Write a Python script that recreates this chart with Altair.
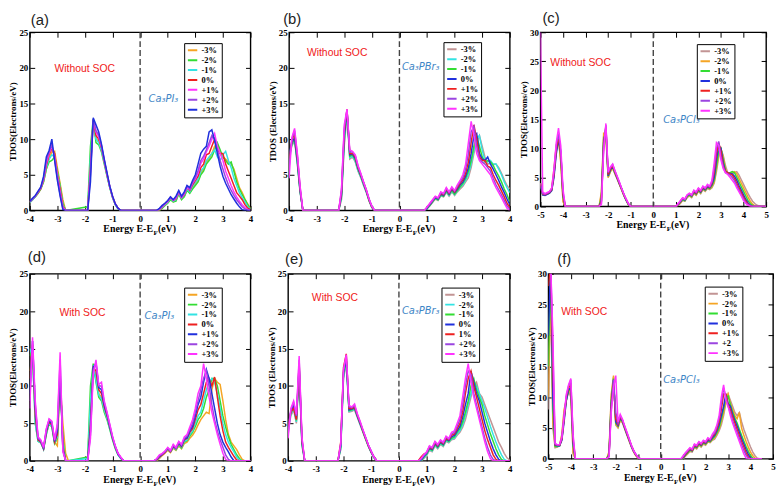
import altair as alt
import pandas as pd

# ---------------- colours ----------------
ORANGE = "#f5a524"
GREEN = "#33dd33"
CYAN = "#33e3e3"
RED = "#ee2020"
MAGENTA = "#ff33ff"
PURPLE = "#9b45e0"
BLUE = "#2030dd"
BROWN = "#c29494"

STRAIN = ["-3%", "-2%", "-1%", "0%", "+1%", "+2%", "+3%"]
STRAIN_E = ["-3%", "-2%", "-1%", "0%", "1%", "+2%", "+3%"]
STRAIN_F = ["-3%", "-2%", "-1%", "0%", "+1%", "+2", "+3%"]

# ================= (a) Ca3PI3 without SOC =================
A_E1 = [-4.0, -3.9, -3.8, -3.7, -3.6, -3.5, -3.4, -3.3, -3.2, -3.1, -3.0, -2.9, -2.8, -2.7]
A_E2 = [-1.9, -1.8, -1.7, -1.6, -1.5, -1.4, -1.3, -1.2, -1.1, -1.0, -0.9, -0.8, -0.7]
A_E3 = [0.6, 0.7, 0.8, 0.9, 1.0, 1.1, 1.2, 1.3, 1.4, 1.5, 1.6, 1.7, 1.8, 1.9, 2.0, 2.1, 2.2, 2.3,
        2.4, 2.5, 2.6, 2.7, 2.8, 2.9, 3.0, 3.1, 3.2, 3.3, 3.4, 3.5, 3.6, 3.7, 3.8, 3.9, 4.0]
A_V1 = [
    [1.1, 1.5, 1.9, 2.4, 3.0, 4.0, 5.8, 7.2, 8.2, 8.3, 6.0, 3.8, 1.5, 0],
    [1.1, 1.5, 1.9, 2.4, 3.0, 4.0, 5.8, 6.8, 7.0, 7.5, 5.5, 3.5, 1.0, 0],
    [1.1, 1.5, 1.9, 2.5, 3.1, 4.2, 6.0, 7.2, 7.8, 7.5, 5.2, 3.2, 0.8, 0],
    [1.2, 1.6, 2.0, 2.5, 3.1, 4.3, 6.3, 7.8, 8.7, 8.0, 5.0, 3.0, 0.6, 0],
    [1.2, 1.6, 2.0, 2.6, 3.2, 4.4, 6.6, 8.0, 9.0, 7.6, 4.8, 2.6, 0.4, 0],
    [1.2, 1.6, 2.0, 2.6, 3.2, 4.5, 7.0, 8.2, 9.3, 7.2, 4.5, 2.2, 0.2, 0],
    [1.3, 1.7, 2.1, 2.7, 3.3, 4.8, 7.5, 8.4, 10.0, 7.0, 4.2, 2.0, 0.1, 0],
]
A_V2 = [
    [0, 7, 12.5, 10, 9.8, 8.5, 6.8, 5.0, 3.3, 1.9, 0.9, 0.3, 0],
    [0.5, 9, 12.8, 9.5, 9.2, 8.2, 6.5, 4.8, 3.2, 1.8, 0.8, 0.2, 0],
    [0, 7.5, 12.5, 10, 9.5, 8.4, 6.7, 4.9, 3.2, 1.8, 0.8, 0.2, 0],
    [0, 6, 12.6, 10.5, 10.0, 8.8, 6.9, 5.0, 3.3, 1.9, 0.9, 0.3, 0],
    [0, 5.5, 12.6, 11, 10.3, 9.0, 7.0, 5.1, 3.3, 1.9, 0.9, 0.3, 0],
    [0, 5, 12.8, 11.2, 10.6, 9.1, 7.1, 5.2, 3.4, 2.0, 0.9, 0.3, 0],
    [0, 4, 13.0, 12.0, 11.0, 9.3, 7.2, 5.3, 3.4, 2.0, 0.9, 0.3, 0],
]
A_CB = [
    [0, 0, 0.3, 0.7, 1.1, 1.6, 1.2, 1.4, 2.4, 1.6, 2.0, 2.9, 2.5, 3.2, 3.7, 4.2, 5.2, 5.8, 6.8, 7.2,
     8.0, 9.0, 9.3, 8.0, 7.5, 7.2, 6.8, 6.5, 5.8, 4.5, 3.2, 2.5, 1.6, 0.9, 0.3],
    [0, 0, 0.3, 0.7, 1.0, 1.5, 1.2, 1.3, 2.3, 1.5, 1.9, 2.8, 2.4, 3.0, 3.5, 4.0, 5.0, 5.5, 6.5, 7.0,
     7.5, 8.5, 9.5, 8.5, 7.5, 7.0, 6.5, 6.8, 5.5, 4.0, 3.0, 2.2, 1.5, 0.8, 0.2],
    [0, 0.1, 0.4, 0.8, 1.1, 1.7, 1.3, 1.5, 2.5, 1.7, 2.1, 3.0, 2.6, 3.4, 3.9, 4.4, 5.5, 6.0, 7.0, 7.5,
     8.0, 8.5, 7.5, 7.0, 7.8, 8.3, 7.0, 6.0, 4.5, 3.5, 2.5, 1.8, 1.2, 0.5, 0.2],
    [0, 0.1, 0.5, 0.9, 1.2, 1.8, 1.4, 1.6, 2.6, 1.8, 2.2, 3.2, 2.8, 3.6, 4.2, 4.8, 6.0, 6.5, 7.8, 8.0,
     9.0, 10.0, 8.5, 8.0, 8.0, 6.5, 5.5, 4.5, 3.5, 2.5, 2.0, 1.5, 0.8, 0.3, 0.1],
    [0, 0.1, 0.5, 0.9, 1.2, 1.8, 1.4, 1.7, 2.6, 1.8, 2.3, 3.3, 2.9, 3.8, 4.4, 5.2, 6.6, 7.2, 8.2, 9.0,
     10.0, 10.8, 9.0, 8.0, 7.0, 5.5, 4.5, 3.5, 2.6, 1.9, 1.3, 0.8, 0.4, 0.1, 0],
    [0, 0.2, 0.6, 1.0, 1.3, 1.9, 1.5, 1.8, 2.7, 1.9, 2.4, 3.4, 3.0, 3.9, 4.6, 5.6, 7.0, 7.6, 8.5, 9.5,
     10.5, 10.0, 8.5, 7.0, 5.8, 4.6, 3.6, 2.8, 2.1, 1.5, 1.0, 0.5, 0.2, 0, 0],
    [0, 0.3, 0.7, 1.0, 1.4, 1.9, 1.5, 2.0, 2.8, 2.0, 2.6, 3.5, 3.2, 4.2, 5.0, 6.5, 8.0, 8.6, 9.0, 11.0,
     11.3, 9.8, 8.0, 6.2, 4.8, 3.8, 3.0, 2.2, 1.6, 1.0, 0.5, 0.1, 0, 0, 0],
]

# ================= (b) Ca3PBr3 without SOC =================
B_E1 = [-4.0, -3.9, -3.8, -3.7, -3.6, -3.5]
B_E2 = [-2.2, -2.1, -2.0, -1.9, -1.8, -1.7, -1.6, -1.5, -1.4, -1.3, -1.2, -1.1, -1.0, -0.9]
B_E3 = [0.8, 0.9, 1.0, 1.1, 1.2, 1.3, 1.4, 1.5, 1.6, 1.7, 1.8, 1.9, 2.0, 2.1, 2.2, 2.3, 2.4, 2.5,
        2.6, 2.7, 2.8, 2.9, 3.0, 3.1, 3.2, 3.3, 3.4, 3.5, 3.6, 3.7, 3.8, 3.9, 4.0]
B_V1 = [
    [7.5, 9.0, 9.8, 6.5, 2.5, 0],
    [7.5, 9.2, 10.0, 6.6, 2.6, 0],
    [7.6, 9.3, 10.0, 6.8, 2.7, 0],
    [7.8, 9.5, 10.2, 7.0, 2.8, 0],
    [7.0, 9.8, 10.8, 7.5, 3.0, 0],
    [6.0, 10.0, 11.2, 7.8, 3.2, 0],
    [4.5, 10.2, 11.5, 8.0, 3.4, 0],
]
B_V2 = [
    [0, 1.5, 9.0, 13.5, 7.2, 7.5, 6.8, 5.5, 4.6, 3.5, 2.5, 1.3, 0.4, 0],
    [0, 1.8, 9.5, 13.8, 7.4, 7.6, 6.9, 5.6, 4.7, 3.6, 2.6, 1.4, 0.4, 0],
    [0, 2.0, 10.0, 14.0, 7.6, 7.8, 7.1, 5.8, 4.8, 3.7, 2.7, 1.4, 0.5, 0],
    [0, 2.2, 10.5, 14.0, 7.8, 7.9, 7.3, 5.9, 4.9, 3.8, 2.7, 1.5, 0.5, 0],
    [0, 2.5, 11.0, 14.2, 8.0, 8.0, 7.5, 6.0, 5.0, 3.9, 2.8, 1.5, 0.5, 0],
    [0, 2.8, 11.5, 14.1, 8.2, 8.2, 7.7, 6.2, 5.1, 4.0, 2.9, 1.6, 0.6, 0],
    [0, 3.0, 12.0, 14.2, 8.5, 8.3, 7.8, 6.3, 5.2, 4.0, 2.9, 1.6, 0.6, 0],
]
B_CB = [
    [0, 0, 0.2, 0.6, 1.1, 1.6, 1.4, 2.0, 1.9, 2.5, 2.0, 2.6, 2.1, 2.6, 3.0, 3.4, 4.0, 4.6, 6.0, 8.0,
     9.5, 10.5, 9.0, 7.5, 6.5, 6.6, 6.4, 6.5, 6.0, 5.2, 4.3, 3.5, 3.0],
    [0, 0, 0.2, 0.7, 1.2, 1.7, 1.5, 2.1, 2.0, 2.6, 2.1, 2.7, 2.2, 2.7, 3.2, 3.6, 4.2, 5.0, 6.5, 8.5,
     10.0, 10.5, 8.5, 7.0, 6.8, 7.0, 6.5, 6.5, 5.8, 5.0, 4.0, 3.2, 2.5],
    [0, 0, 0.3, 0.7, 1.2, 1.7, 1.5, 2.2, 2.0, 2.7, 2.2, 2.8, 2.3, 2.8, 3.3, 3.8, 4.5, 5.5, 7.0, 9.0,
     10.5, 9.0, 7.5, 6.8, 7.0, 6.8, 6.3, 5.5, 4.8, 4.0, 3.0, 2.2, 1.2],
    [0, 0, 0.3, 0.8, 1.3, 1.8, 1.6, 2.3, 2.1, 2.9, 2.3, 3.0, 2.5, 3.0, 3.6, 4.0, 4.8, 6.0, 8.0, 10.5,
     10.8, 8.0, 7.2, 7.0, 7.5, 6.5, 5.8, 5.0, 4.2, 3.3, 2.5, 1.6, 0.8],
    [0, 0, 0.4, 0.9, 1.4, 1.9, 1.7, 2.4, 2.2, 3.0, 2.4, 3.1, 2.6, 3.2, 3.8, 4.3, 5.2, 6.8, 9.5, 12.0,
     10.0, 7.5, 7.0, 7.0, 6.2, 6.0, 5.0, 4.2, 3.5, 2.7, 1.9, 1.0, 0.4],
    [0, 0, 0.4, 0.9, 1.4, 1.9, 1.7, 2.5, 2.3, 3.1, 2.5, 3.2, 2.7, 3.4, 4.0, 4.6, 5.8, 8.0, 11.0, 11.8,
     9.0, 7.2, 6.8, 6.5, 6.0, 5.5, 4.5, 3.6, 2.9, 2.2, 1.4, 0.6, 0.2],
    [0, 0, 0.5, 1.0, 1.5, 2.0, 1.8, 2.6, 2.4, 3.2, 2.6, 3.3, 2.8, 3.6, 4.2, 5.0, 6.5, 9.5, 12.5, 10.5,
     8.0, 7.0, 6.5, 6.0, 5.5, 5.0, 4.0, 3.2, 2.5, 1.8, 1.0, 0.3, 0],
]

# ================= (c) Ca3PCl3 without SOC =================
C_E1 = [-5.0, -4.9, -4.8, -4.7, -4.6, -4.5, -4.4, -4.3, -4.2, -4.1, -4.0, -3.9]
C_E2 = [-2.4, -2.3, -2.2, -2.1, -2.0, -1.9, -1.8, -1.7, -1.6, -1.5, -1.4, -1.3, -1.2, -1.1, -1.0]
C_E3 = [1.0, 1.1, 1.2, 1.3, 1.4, 1.5, 1.6, 1.7, 1.8, 1.9, 2.0, 2.1, 2.2, 2.3, 2.4, 2.5, 2.6, 2.7,
        2.8, 2.9, 3.0, 3.1, 3.2, 3.3, 3.4, 3.5, 3.6, 3.7, 3.8, 3.9, 4.0, 4.1, 4.2, 4.3, 4.4, 4.5,
        4.6, 4.7, 4.8, 4.9, 5.0]
C_V1 = [
    [4, 2.2, 2.0, 2.2, 2.4, 3.0, 6.0, 10.0, 11.5, 8.0, 1.0, 0],
    [4, 2.2, 2.0, 2.2, 2.4, 3.2, 6.5, 10.5, 11.8, 7.5, 0.8, 0],
    [3.5, 2.0, 2.0, 2.1, 2.3, 2.8, 5.5, 9.5, 11.5, 8.5, 1.5, 0],
    [3.5, 2.0, 1.9, 2.1, 2.3, 2.7, 5.0, 9.0, 11.5, 9.5, 2.0, 0],
    [3.8, 2.1, 2.0, 2.2, 2.4, 2.9, 5.5, 9.8, 12.0, 9.0, 2.0, 0],
    [4.0, 2.2, 2.1, 2.3, 2.5, 3.0, 6.0, 10.5, 12.5, 9.5, 2.5, 0],
    [30, 2.5, 2.2, 2.4, 2.6, 3.2, 6.5, 11.0, 13.5, 10.5, 3.0, 0],
]
C_V2 = [
    [0, 2, 12, 12.5, 5.0, 6.0, 6.6, 5.6, 4.7, 3.8, 2.8, 1.8, 1.0, 0.3, 0],
    [0, 2.5, 12.5, 12, 5.0, 6.0, 6.6, 5.7, 4.8, 3.8, 2.9, 1.9, 1.1, 0.3, 0],
    [0, 1.5, 11.5, 13, 5.2, 6.2, 6.8, 5.8, 4.9, 3.9, 2.9, 1.9, 1.1, 0.3, 0],
    [0, 1.0, 11, 13.5, 5.3, 6.3, 6.9, 5.9, 4.9, 3.9, 3.0, 2.0, 1.1, 0.4, 0],
    [0, 0.8, 10.5, 13.8, 5.5, 6.5, 7.0, 6.0, 5.0, 4.0, 3.0, 2.0, 1.2, 0.4, 0],
    [0, 0.5, 10, 14, 5.8, 6.7, 7.2, 6.1, 5.1, 4.1, 3.1, 2.1, 1.2, 0.4, 0],
    [0, 0.3, 9.5, 14.3, 6.0, 6.8, 7.3, 6.2, 5.2, 4.2, 3.1, 2.1, 1.3, 0.5, 0],
]
C_CB = [
    [0, 0.2, 0.5, 1.0, 0.9, 1.5, 1.8, 1.5, 2.2, 1.9, 2.6, 2.2, 2.9, 2.6, 3.1, 2.9, 3.2, 4.0, 6.0, 8.5,
     9.8, 8.8, 7.0, 5.8, 5.5, 5.6, 5.8, 6.0, 5.4, 4.6, 3.8, 3.0, 2.2, 1.5, 0.9, 0.5, 0.2, 0.1, 0, 0, 0],
    [0, 0.2, 0.6, 1.1, 1.0, 1.6, 1.9, 1.6, 2.3, 2.0, 2.7, 2.3, 3.0, 2.7, 3.2, 3.0, 3.4, 4.2, 6.5, 9.0,
     10.0, 8.5, 6.5, 5.6, 5.6, 5.8, 6.0, 5.6, 4.8, 4.0, 3.2, 2.4, 1.6, 0.9, 0.4, 0.1, 0, 0, 0, 0, 0],
    [0, 0.3, 0.7, 1.2, 1.0, 1.7, 2.0, 1.7, 2.4, 2.1, 2.8, 2.4, 3.1, 2.8, 3.3, 3.1, 3.6, 4.5, 7.0, 9.5,
     10.0, 8.0, 6.2, 5.6, 5.8, 6.0, 5.8, 5.0, 4.2, 3.4, 2.6, 1.8, 1.0, 0.5, 0.2, 0, 0, 0, 0, 0, 0],
    [0, 0.3, 0.8, 1.3, 1.1, 1.8, 2.1, 1.8, 2.5, 2.2, 2.9, 2.5, 3.2, 2.9, 3.4, 3.2, 3.8, 5.0, 8.0, 10.5,
     10.0, 7.5, 6.0, 5.8, 5.7, 5.6, 5.2, 4.5, 3.6, 2.8, 2.0, 1.2, 0.6, 0.2, 0, 0, 0, 0, 0, 0, 0],
    [0, 0.4, 0.9, 1.4, 1.2, 1.9, 2.2, 1.9, 2.6, 2.3, 3.0, 2.6, 3.3, 3.0, 3.5, 3.3, 4.0, 5.8, 9.0, 11.0,
     9.5, 7.0, 6.0, 5.8, 5.6, 5.4, 4.8, 4.0, 3.2, 2.4, 1.6, 0.9, 0.4, 0.1, 0, 0, 0, 0, 0, 0, 0],
    [0, 0.4, 0.9, 1.4, 1.2, 1.9, 2.2, 1.9, 2.7, 2.4, 3.1, 2.7, 3.4, 3.1, 3.6, 3.4, 4.2, 6.5, 10.0, 11.2,
     8.5, 6.8, 5.8, 5.6, 5.4, 5.0, 4.4, 3.6, 2.8, 2.0, 1.3, 0.6, 0.3, 0.1, 0, 0, 0, 0, 0, 0, 0],
    [0, 0.5, 1.0, 1.5, 1.3, 2.0, 2.3, 2.0, 2.8, 2.5, 3.2, 2.8, 3.5, 3.2, 3.8, 3.5, 4.5, 7.5, 11.0, 10.5,
     8.0, 6.5, 5.8, 5.5, 5.0, 4.5, 4.0, 3.2, 2.5, 1.8, 1.0, 0.5, 0.2, 0, 0, 0, 0, 0, 0, 0, 0],
]

# ================= (d) Ca3PI3 with SOC =================
D_E1 = [-4.0, -3.9, -3.8, -3.7, -3.6, -3.5, -3.4, -3.3, -3.2, -3.1, -3.0, -2.9, -2.8, -2.7, -2.6]
D_E2 = [-1.9, -1.8, -1.7, -1.6, -1.5, -1.4, -1.3, -1.2, -1.1, -1.0, -0.9, -0.8, -0.7, -0.6]
D_E3 = [0.5, 0.6, 0.7, 0.8, 0.9, 1.0, 1.1, 1.2, 1.3, 1.4, 1.5, 1.6, 1.7, 1.8, 1.9, 2.0, 2.1, 2.2,
        2.3, 2.4, 2.5, 2.6, 2.7, 2.8, 2.9, 3.0, 3.1, 3.2, 3.3, 3.4, 3.5, 3.6, 3.7, 3.8, 3.9, 4.0]
D_V1 = [
    [12, 14, 6, 2.8, 2.5, 1.6, 3.8, 5.2, 4.8, 2.5, 2.0, 10.5, 5.0, 1.0, 0],
    [14, 15, 5, 2.6, 2.4, 1.6, 3.5, 5.0, 4.5, 2.3, 3.0, 11.0, 3.0, 0, 0],
    [15, 14, 5, 2.6, 2.4, 1.5, 3.6, 5.0, 4.6, 2.4, 3.2, 11.0, 2.5, 0, 0],
    [11, 15.5, 6, 2.8, 2.5, 1.6, 3.8, 5.2, 4.8, 2.5, 3.5, 11.5, 2.0, 0, 0],
    [9, 16, 7, 3.0, 2.6, 1.7, 4.0, 5.4, 5.0, 2.6, 4.0, 12.0, 1.5, 0, 0],
    [8, 16, 7.5, 3.0, 2.7, 1.8, 4.2, 5.5, 5.2, 2.7, 4.5, 13.5, 1.5, 0, 0],
    [7, 16.5, 8, 3.2, 2.8, 1.8, 4.3, 5.6, 5.3, 2.8, 5.0, 14.5, 1.2, 0, 0],
]
D_V2 = [
    [0, 6, 12.5, 11, 9.0, 8.5, 7.0, 6.0, 4.5, 3.0, 1.8, 0.9, 0.4, 0],
    [0.5, 10, 13, 10.5, 8.5, 8.0, 6.5, 5.5, 4.2, 2.8, 1.6, 0.8, 0.3, 0],
    [0.3, 8, 12.8, 10.8, 8.8, 8.3, 6.8, 5.7, 4.3, 2.9, 1.7, 0.8, 0.3, 0],
    [0, 5, 12.5, 12, 9.5, 9.0, 7.2, 6.0, 4.5, 3.0, 1.8, 0.9, 0.4, 0],
    [0, 4, 12.5, 13, 9.8, 9.5, 7.5, 6.2, 4.6, 3.1, 1.9, 0.9, 0.4, 0],
    [0, 3.5, 12, 13.2, 10.0, 10.0, 7.8, 6.4, 4.8, 3.2, 1.9, 1.0, 0.4, 0],
    [0, 3, 11.5, 13.5, 10.2, 10.5, 8.0, 6.5, 4.9, 3.3, 2.0, 1.0, 0.5, 0],
]
D_CB = [
    [0, 0, 0.3, 0.7, 1.0, 1.4, 1.1, 1.7, 1.4, 2.0, 1.6, 2.3, 2.5, 3.0, 3.4, 4.0, 4.8, 5.5, 6.0, 6.5,
     6.3, 9.5, 11.0, 10.5, 10.2, 8.0, 5.5, 3.5, 2.5, 2.0, 1.5, 0.8, 0.2, 0, 0, 0],
    [0, 0.2, 0.5, 0.9, 1.2, 1.6, 1.2, 1.8, 1.5, 2.1, 1.7, 2.5, 2.7, 3.3, 3.8, 4.6, 5.5, 6.0, 7.0, 8.5,
     9.5, 11.0, 11.0, 10.0, 8.0, 6.0, 4.5, 3.2, 2.2, 1.5, 0.8, 0.3, 0, 0, 0, 0],
    [0, 0.1, 0.4, 0.8, 1.1, 1.5, 1.2, 1.8, 1.5, 2.2, 1.8, 2.6, 2.8, 3.5, 4.0, 5.0, 6.0, 6.5, 8.0, 9.5,
     10.5, 11.0, 10.5, 9.0, 7.0, 5.0, 3.5, 2.5, 1.8, 1.2, 0.5, 0.1, 0, 0, 0, 0],
    [0, 0.1, 0.5, 0.8, 1.1, 1.6, 1.2, 1.9, 1.6, 2.3, 1.9, 2.8, 3.0, 3.8, 4.3, 5.5, 6.8, 7.5, 9.0, 10.5,
     11.0, 10.0, 11.2, 8.5, 6.0, 4.0, 2.5, 1.8, 1.2, 0.6, 0.1, 0, 0, 0, 0, 0],
    [0, 0.2, 0.6, 0.9, 1.2, 1.7, 1.3, 2.0, 1.7, 2.4, 2.0, 2.9, 3.1, 4.0, 4.6, 6.0, 7.5, 8.5, 10.5, 12.2,
     11.0, 9.0, 7.0, 5.0, 3.5, 2.5, 1.8, 1.2, 0.5, 0, 0, 0, 0, 0, 0, 0],
    [0, 0.2, 0.7, 0.9, 1.2, 1.7, 1.3, 2.1, 1.7, 2.5, 2.1, 3.0, 3.3, 4.2, 5.0, 6.5, 8.0, 9.5, 11.0, 12.0,
     10.0, 7.5, 5.5, 4.0, 2.8, 1.8, 0.8, 0.2, 0, 0, 0, 0, 0, 0, 0, 0],
    [0, 0.3, 0.8, 1.0, 1.3, 1.8, 1.4, 2.2, 1.8, 2.6, 2.2, 3.2, 3.5, 4.5, 5.5, 7.0, 9.0, 10.0, 13.0, 11.0,
     8.5, 6.5, 5.0, 3.5, 2.2, 1.0, 0.2, 0, 0, 0, 0, 0, 0, 0, 0, 0],
]

# ================= (e) Ca3PBr3 with SOC =================
E_E1 = [-4.0, -3.9, -3.8, -3.7, -3.6, -3.5, -3.4]
E_E2 = [-2.2, -2.1, -2.0, -1.9, -1.8, -1.7, -1.6, -1.5, -1.4, -1.3, -1.2, -1.1, -1.0, -0.9, -0.8]
E_E3 = [0.7, 0.8, 0.9, 1.0, 1.1, 1.2, 1.3, 1.4, 1.5, 1.6, 1.7, 1.8, 1.9, 2.0, 2.1, 2.2, 2.3, 2.4,
        2.5, 2.6, 2.7, 2.8, 2.9, 3.0, 3.1, 3.2, 3.3, 3.4, 3.5, 3.6, 3.7, 3.8, 3.9, 4.0]
E_V1 = [
    [4.0, 6.0, 6.8, 5.0, 12.0, 2.0, 0],
    [4.2, 6.2, 7.0, 5.2, 12.2, 2.2, 0],
    [4.4, 6.4, 7.2, 5.4, 12.4, 2.4, 0],
    [4.6, 6.6, 7.4, 5.6, 12.6, 2.6, 0],
    [4.5, 6.5, 7.0, 5.5, 13.0, 2.8, 0],
    [3.5, 6.8, 7.8, 6.0, 13.5, 3.0, 0],
    [3.0, 7.0, 8.0, 6.2, 14.0, 3.2, 0],
]
E_V2 = [
    [0, 1.5, 11.0, 13.0, 6.5, 6.6, 6.8, 5.8, 4.8, 3.8, 2.8, 1.9, 1.1, 0.4, 0],
    [0, 1.6, 11.2, 13.2, 6.6, 6.7, 6.9, 5.9, 4.9, 3.9, 2.9, 1.9, 1.1, 0.4, 0],
    [0, 1.8, 11.5, 13.4, 6.7, 6.8, 7.0, 6.0, 5.0, 3.9, 2.9, 2.0, 1.2, 0.5, 0],
    [0, 2.0, 11.8, 13.6, 6.8, 6.9, 7.1, 6.0, 5.0, 4.0, 3.0, 2.0, 1.2, 0.5, 0],
    [0, 2.5, 12.5, 14.3, 7.0, 7.0, 7.2, 6.1, 5.1, 4.0, 3.0, 2.0, 1.2, 0.5, 0],
    [0, 2.2, 12.0, 14.0, 7.2, 7.1, 7.4, 6.2, 5.2, 4.1, 3.1, 2.1, 1.3, 0.5, 0],
    [0, 2.3, 12.2, 14.2, 7.4, 7.2, 7.6, 6.3, 5.3, 4.2, 3.1, 2.1, 1.3, 0.5, 0],
]
E_CB = [
    [0, 0, 0.3, 0.7, 1.4, 1.2, 2.0, 1.6, 2.2, 1.9, 2.6, 2.4, 2.8, 2.9, 3.4, 3.8, 4.5, 5.5, 7.0, 8.5,
     10.0, 10.5, 9.0, 8.5, 7.5, 6.5, 5.5, 4.5, 3.5, 2.5, 1.8, 1.0, 0.4, 0.1],
    [0, 0, 0.4, 0.8, 1.5, 1.3, 2.1, 1.7, 2.3, 2.0, 2.7, 2.5, 2.9, 3.0, 3.6, 4.0, 4.8, 6.0, 7.5, 9.0,
     10.5, 10.0, 9.0, 8.0, 7.0, 5.8, 4.6, 3.5, 2.5, 1.6, 0.8, 0.2, 0, 0],
    [0, 0, 0.5, 0.9, 1.6, 1.4, 2.2, 1.8, 2.4, 2.1, 2.8, 2.6, 3.0, 3.2, 3.8, 4.3, 5.2, 6.5, 8.0, 10.0,
     11.0, 9.5, 8.5, 7.5, 6.0, 4.8, 3.6, 2.6, 1.6, 0.8, 0.2, 0, 0, 0],
    [0, 0.1, 0.6, 1.0, 1.7, 1.5, 2.3, 1.9, 2.5, 2.2, 2.9, 2.7, 3.2, 3.4, 4.0, 4.6, 5.8, 7.5, 9.0, 12.0,
     10.5, 9.0, 8.0, 6.5, 5.0, 3.8, 2.6, 1.6, 0.8, 0.2, 0, 0, 0, 0],
    [0, 0.5, 0.9, 1.1, 1.8, 1.6, 2.4, 2.0, 2.6, 2.3, 3.0, 2.8, 3.4, 3.6, 4.3, 5.0, 6.5, 9.0, 11.0, 12.0,
     10.0, 8.5, 7.0, 5.5, 4.0, 2.8, 1.8, 0.8, 0.2, 0, 0, 0, 0, 0],
    [0, 0.2, 0.7, 1.1, 1.9, 1.7, 2.5, 2.1, 2.7, 2.4, 3.2, 2.9, 3.6, 3.8, 4.6, 5.5, 7.5, 10.0, 12.0, 11.5,
     9.0, 7.5, 6.0, 4.5, 3.0, 1.8, 0.8, 0.2, 0, 0, 0, 0, 0, 0],
    [0, 0.3, 0.8, 1.2, 2.0, 1.8, 2.6, 2.2, 2.8, 2.5, 3.3, 3.0, 3.8, 4.0, 5.0, 6.0, 8.5, 11.0, 13.0, 10.5,
     8.5, 7.0, 5.5, 4.0, 2.5, 1.2, 0.3, 0, 0, 0, 0, 0, 0, 0],
]

# ================= (f) Ca3PCl3 with SOC =================
F_E1 = [-5.0, -4.9, -4.8, -4.7, -4.6, -4.5, -4.4, -4.3, -4.2, -4.1, -4.0, -3.9, -3.8]
F_E2 = [-2.4, -2.3, -2.2, -2.1, -2.0, -1.9, -1.8, -1.7, -1.6, -1.5, -1.4, -1.3, -1.2, -1.1, -1.0, -0.9]
F_E3 = [0.9, 1.0, 1.1, 1.2, 1.3, 1.4, 1.5, 1.6, 1.7, 1.8, 1.9, 2.0, 2.1, 2.2, 2.3, 2.4, 2.5, 2.6,
        2.7, 2.8, 2.9, 3.0, 3.1, 3.2, 3.3, 3.4, 3.5, 3.6, 3.7, 3.8, 3.9, 4.0, 4.1, 4.2, 4.3, 4.4, 4.5]
F_V1 = [
    [8, 28, 5, 1.8, 1.9, 2.1, 3.8, 7.5, 9.5, 11.0, 10.0, 0.8, 0],
    [10, 30, 6, 2.0, 2.0, 2.2, 4.0, 8.0, 9.5, 11.5, 10.5, 1.0, 0],
    [15, 32, 8, 2.0, 2.0, 2.1, 3.2, 6.5, 9.5, 11.0, 11.5, 2.0, 0],
    [20, 32, 10, 2.2, 2.1, 2.1, 3.0, 6.0, 9.5, 11.2, 11.5, 2.5, 0],
    [28, 32, 15, 2.3, 2.2, 2.2, 3.2, 6.5, 10.0, 11.5, 12.0, 3.0, 0],
    [30, 32, 18, 2.4, 2.2, 2.3, 3.4, 7.0, 10.2, 11.8, 12.8, 3.5, 0],
    [32, 32, 20, 2.5, 2.3, 2.3, 3.5, 7.0, 10.5, 12.0, 13.0, 4.0, 0],
]
F_V2 = [
    [0, 1.0, 10.0, 13.2, 5.5, 5.0, 6.2, 5.8, 4.8, 3.8, 2.8, 1.9, 1.1, 0.5, 0.1, 0],
    [0, 1.2, 10.5, 13.5, 5.6, 5.1, 6.3, 5.9, 4.9, 3.9, 2.9, 1.9, 1.1, 0.5, 0.1, 0],
    [0, 0.8, 9.5, 13.0, 5.8, 5.3, 6.5, 6.0, 5.0, 4.0, 3.0, 2.0, 1.2, 0.6, 0.2, 0],
    [0, 0.6, 9.0, 12.8, 6.0, 5.4, 6.6, 6.1, 5.0, 4.0, 3.0, 2.0, 1.2, 0.6, 0.2, 0],
    [0, 0.5, 8.5, 12.5, 6.5, 5.6, 6.8, 6.2, 5.1, 4.1, 3.1, 2.1, 1.3, 0.6, 0.2, 0],
    [0, 0.4, 8.0, 12.8, 7.5, 5.8, 7.0, 6.3, 5.2, 4.2, 3.2, 2.1, 1.3, 0.7, 0.2, 0],
    [0, 0.3, 7.5, 11.5, 13.5, 6.0, 7.2, 6.4, 5.3, 4.3, 3.2, 2.2, 1.3, 0.7, 0.2, 0],
]
F_CB = [
    [0, 0, 0.4, 0.8, 1.2, 1.1, 1.8, 1.6, 2.2, 1.9, 2.4, 2.2, 2.7, 2.6, 3.0, 3.2, 3.8, 4.5, 5.5, 7.0,
     9.0, 10.5, 9.5, 8.5, 7.5, 7.0, 7.5, 6.0, 4.8, 3.8, 2.8, 1.9, 1.1, 0.5, 0.1, 0, 0],
    [0, 0.1, 0.5, 0.9, 1.3, 1.2, 1.9, 1.7, 2.3, 2.0, 2.5, 2.3, 2.8, 2.7, 3.1, 3.4, 4.0, 4.8, 6.0, 7.5,
     9.5, 10.5, 9.0, 8.0, 7.0, 6.5, 7.5, 5.0, 3.8, 2.8, 1.9, 1.1, 0.5, 0.1, 0, 0, 0],
    [0, 0.1, 0.6, 1.0, 1.4, 1.3, 2.0, 1.8, 2.4, 2.1, 2.6, 2.4, 2.9, 2.8, 3.2, 3.6, 4.2, 5.0, 6.5, 8.0,
     10.0, 10.2, 8.8, 7.6, 6.6, 5.8, 4.8, 3.8, 2.9, 2.0, 1.2, 0.5, 0.1, 0, 0, 0, 0],
    [0, 0.2, 0.7, 1.1, 1.5, 1.3, 2.1, 1.9, 2.5, 2.2, 2.7, 2.5, 3.0, 2.9, 3.4, 3.8, 4.5, 5.5, 7.0, 8.5,
     10.5, 9.0, 8.5, 7.2, 6.2, 5.3, 4.3, 3.3, 2.4, 1.5, 0.7, 0.1, 0, 0, 0, 0, 0],
    [0, 0.3, 0.8, 1.2, 1.6, 1.4, 2.2, 2.0, 2.6, 2.3, 2.8, 2.6, 3.2, 3.0, 3.6, 4.0, 4.8, 6.0, 8.0, 10.5,
     10.5, 8.8, 8.0, 6.8, 5.8, 4.8, 3.8, 2.8, 1.9, 1.0, 0.3, 0, 0, 0, 0, 0, 0],
    [0, 0.4, 0.9, 1.3, 1.7, 1.5, 2.3, 2.1, 2.7, 2.4, 2.9, 2.7, 3.3, 3.1, 3.8, 4.2, 5.2, 6.5, 9.0, 11.5,
     10.0, 8.5, 7.5, 6.2, 5.2, 4.3, 3.3, 2.3, 1.4, 0.6, 0.1, 0, 0, 0, 0, 0, 0],
    [0, 0.5, 1.0, 1.4, 1.8, 1.6, 2.4, 2.2, 2.8, 2.5, 3.0, 2.8, 3.4, 3.2, 4.0, 4.5, 5.5, 7.0, 10.0, 12.0,
     9.5, 8.5, 7.0, 5.8, 4.8, 3.8, 2.8, 1.8, 0.8, 0.1, 0, 0, 0, 0, 0, 0, 0],
]

SERIF = "Liberation Serif"
SANS = "Liberation Sans"


def txt(s, x, y, **props):
    return alt.Chart(pd.DataFrame({"t": [s]})).mark_text(**props).encode(
        x=alt.value(x), y=alt.value(y), text="t:N")


def panel(E_segs, Y_segs, labels, colors, xdom, xvals, ydom, yvals, ytitle, W, H,
          letter, lxy, note, nxy, comp, cxy, leg):
    rows = []
    for k, lab in enumerate(labels):
        for es, ys in zip(E_segs, Y_segs):
            for e, t in zip(es, ys[k]):
                rows.append({"E": e, "T": t, "s": lab})
    df = pd.DataFrame(rows)
    xs = alt.Scale(domain=xdom, nice=False, zero=False)
    ys_ = alt.Scale(domain=ydom, nice=False, zero=False)
    x = alt.X("E:Q", scale=xs,
              axis=alt.Axis(values=xvals, title=None, labelExpr="datum.value + ''",
                            offset=-5, labelFlush=False, labelOverlap=False, labelPadding=4))
    y = alt.Y("T:Q", scale=ys_,
              axis=alt.Axis(values=yvals, title=ytitle, labelExpr="datum.value + ''",
                            offset=-5, labelOverlap=False))
    color = alt.Color("s:N", scale=alt.Scale(domain=labels, range=colors),
                      legend=alt.Legend(orient="none", legendX=leg[0], legendY=leg[1], title=None,
                                        symbolType="stroke", symbolStrokeWidth=2, symbolSize=90,
                                        labelFont=SERIF, labelFontWeight="bold", labelFontSize=8.5,
                                        labelColor="black", rowPadding=0, padding=2.5, clipHeight=9.4,
                                        strokeColor="black", fillColor="white", labelOffset=3))
    layers = []
    for lab in labels:
        layers.append(alt.Chart().transform_filter(alt.datum.s == lab)
                      .mark_line(strokeWidth=1.5, clip=True)
                      .encode(x=x, y=y, color=color))
    zero = alt.Chart(pd.DataFrame({"E": [0.0]})).mark_rule(
        strokeDash=[6, 3], strokeWidth=1.4, color="#444").encode(x=x)
    cx = W / 2
    texts = [
        txt(note, nxy[0], nxy[1], align="left", baseline="middle", font=SANS, fontSize=10.5, color="#f02020"),
        txt(comp, cxy[0], cxy[1], align="left", baseline="middle", font="DejaVu Sans", fontStyle="italic",
            fontSize=10, color="#3d85c6"),
        txt(letter, lxy[0], lxy[1], align="left", baseline="top", font=SANS, fontSize=15, color="#222"),
        txt("Energy E-E", cx + 13, H + 22, align="right", baseline="alphabetic", font=SERIF,
            fontWeight="bold", fontSize=10, color="black"),
        txt("F", cx + 13.5, H + 25, align="left", baseline="alphabetic", font=SERIF,
            fontWeight="bold", fontSize=7, color="black"),
        txt("(eV)", cx + 18, H + 22, align="left", baseline="alphabetic", font=SERIF,
            fontWeight="bold", fontSize=10, color="black"),
    ]
    main = alt.layer(*layers, zero, *texts, data=df)
    # mirrored inward ticks on the top and right edges
    mirror = alt.Chart(df).mark_point(opacity=0, clip=True).encode(
        x=alt.X("E:Q", scale=xs, axis=alt.Axis(orient="top", values=xvals, labels=False, title=None,
                                                offset=-5)),
        y=alt.Y("T:Q", scale=ys_, axis=alt.Axis(orient="right", values=yvals, labels=False, title=None,
                                                 offset=-5)),
    )
    return alt.layer(main, mirror).resolve_axis(x="independent", y="independent").properties(
        width=W, height=H)


def indep(c):
    return c.resolve_scale(color="independent").resolve_legend(color="independent")


pa = panel([A_E1, A_E2, A_E3], [A_V1, A_V2, A_CB], STRAIN,
           [ORANGE, GREEN, CYAN, RED, MAGENTA, PURPLE, BLUE],
           [-4, 4], list(range(-4, 5)), [0, 25], [0, 5, 10, 15, 20, 25], "TDOS(Electrons/eV)",
           223, 180, "(a)", (1, -19), "Without  SOC", (25, 37), "Ca\u2083PI\u2083", (120, 67), (156, 11))
pb = panel([B_E1, B_E2, B_E3], [B_V1, B_V2, B_CB], STRAIN,
           [BROWN, CYAN, GREEN, BLUE, RED, PURPLE, MAGENTA],
           [-4, 4], list(range(-4, 5)), [0, 25], [0, 5, 10, 15, 20, 25], "TDOS (Electrons/eV)",
           223, 180, "(b)", (-6, -20), "Without SOC", (18, 21), "Ca\u2083PBr\u2083", (114, 35), (156, 10))
pc = panel([C_E1, C_E2, C_E3], [C_V1, C_V2, C_CB], STRAIN,
           [BROWN, ORANGE, GREEN, BLUE, RED, PURPLE, MAGENTA],
           [-5, 5], list(range(-5, 6)), [0, 30], [0, 5, 10, 15, 20, 25, 30], "TDOS(Electrons/ev)",
           228, 176, "(c)", (2, -21), "Without SOC", (10, 31), "Ca\u2083PCl\u2083", (124, 89), (158, 12))
pd_ = panel([D_E1, D_E2, D_E3], [D_V1, D_V2, D_CB], STRAIN,
            [ORANGE, GREEN, CYAN, RED, BLUE, PURPLE, MAGENTA],
            [-4, 4], list(range(-4, 5)), [0, 25], [0, 5, 10, 15, 20, 25], "TDOS(Electrons/eV)",
            223, 189, "(d)", (-2, -24), "With SOC", (30, 40), "Ca\u2083PI\u2083", (116, 43), (156, 14))
pe = panel([E_E1, E_E2, E_E3], [E_V1, E_V2, E_CB], STRAIN_E,
           [BROWN, CYAN, GREEN, BLUE, RED, PURPLE, MAGENTA],
           [-4, 4], list(range(-4, 5)), [0, 25], [0, 5, 10, 15, 20, 25], "TDOS (Electrons/eV)",
           224, 189, "(e)", (-3, -22), "With SOC", (24, 25), "Ca\u2083PBr\u2083", (115, 38), (155, 14))
pf = panel([F_E1, F_E2, F_E3], [F_V1, F_V2, F_CB], STRAIN_F,
           [BROWN, ORANGE, GREEN, BLUE, RED, PURPLE, MAGENTA],
           [-5, 5], list(range(-5, 6)), [0, 30], [0, 5, 10, 15, 20, 25, 30], "TDOS(Electrons/eV)",
           227, 187, "(f)", (9, -22), "With SOC", (13, 39), "Ca\u2083PCl\u2083", (116, 107), (158, 13))

row1 = indep(alt.hconcat(pa, indep(alt.hconcat(pb, pc, spacing=31, bounds="flush")),
                         spacing=39, bounds="flush"))
row2 = indep(alt.hconcat(pd_, indep(alt.hconcat(pe, pf, spacing=39, bounds="flush")),
                         spacing=38, bounds="flush"))

chart = indep(alt.vconcat(row1, row2, spacing=12)).properties(
    padding={"left": 0, "top": 0, "right": 0, "bottom": 0}
).configure_view(stroke="black", strokeWidth=1.4).configure_axis(
    grid=False, domain=False, tickColor="black", tickSize=5, tickWidth=1,
    labelFont=SERIF, labelFontWeight="bold", labelFontSize=9, labelColor="black", labelPadding=2,
    titleFont=SERIF, titleFontWeight="bold", titleFontSize=9, titleColor="black", titlePadding=1
).configure_legend(cornerRadius=0)

chart.save("out.html", embed_options={"renderer": "svg", "actions": False})
